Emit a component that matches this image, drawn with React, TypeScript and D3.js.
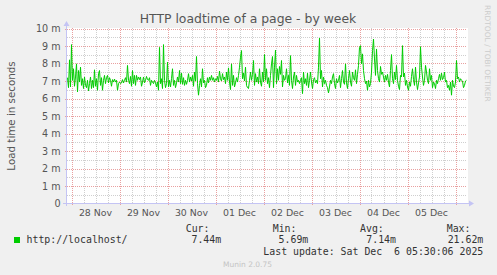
import React from "react";
import * as d3 from "d3";

const W = 497;
const H = 275;

// Load time values (milli-seconds units as shown: "m"), 30-min steps, oldest first
const loadTimes: number[] = [
  7.19, 6.62, 8.21, 6.66, 9.08, 7.04, 7.70, 6.70, 7.23, 7.98,
  6.38, 7.60, 6.94, 7.79, 6.75, 7.13, 6.57, 7.23, 6.75, 6.62,
  7.04, 6.43, 6.85, 7.23, 6.57, 7.04, 6.62, 7.64, 6.70, 7.13,
  6.47, 7.42, 7.60, 6.75, 7.19, 6.47, 7.04, 7.32, 6.85, 7.19,
  7.32, 6.89, 7.19, 7.04, 6.70, 7.08, 6.94, 7.11, 6.94, 7.04,
  6.47, 6.85, 6.94, 6.85, 6.89, 7.08, 6.89, 7.04, 7.19, 6.94,
  7.89, 7.04, 6.85, 7.26, 6.70, 7.60, 6.85, 7.32, 6.75, 7.32,
  7.04, 7.23, 7.08, 7.23, 6.70, 6.94, 7.23, 6.89, 7.04, 7.26,
  7.08, 7.04, 7.19, 6.75, 7.04, 6.94, 6.85, 7.04, 6.89, 6.66,
  6.94, 6.47, 8.92, 6.85, 7.13, 6.57, 9.08, 7.04, 6.62, 6.85,
  8.08, 6.66, 7.04, 6.66, 7.13, 7.70, 6.75, 7.04, 6.62, 6.89,
  7.23, 6.94, 7.60, 6.85, 7.45, 6.81, 7.19, 6.75, 7.04, 6.81,
  7.04, 7.42, 6.94, 7.23, 7.00, 7.32, 6.70, 7.51, 7.00, 8.40,
  6.85, 6.19, 6.75, 7.13, 6.66, 7.70, 6.89, 7.04, 6.62, 6.75,
  7.19, 6.89, 7.23, 7.04, 7.32, 7.04, 7.19, 6.94, 7.13, 7.04,
  7.26, 6.94, 7.57, 7.13, 7.00, 7.42, 7.08, 7.23, 6.85, 7.51,
  7.04, 7.75, 6.94, 6.51, 7.98, 6.75, 7.32, 6.66, 6.89, 7.19,
  6.94, 7.32, 7.79, 8.36, 8.74, 7.13, 7.45, 7.00, 7.79, 6.75,
  6.62, 6.57, 7.04,
  7.51, 7.04, 7.38, 8.17, 6.75, 7.42, 6.94, 7.23, 6.85, 7.70,
  6.94, 6.70, 7.51, 6.94, 8.51, 7.04, 7.70, 6.85, 7.19, 6.62,
  7.32, 7.98, 8.40, 6.62, 7.79, 8.77, 6.85, 7.70, 7.04, 7.83,
  7.38, 8.17, 6.66, 7.32, 7.04, 7.13, 7.70, 6.89, 7.32, 6.75,
  8.45, 7.04, 6.57, 7.23, 7.51, 6.75, 7.32, 6.94, 7.04, 6.85,
  7.04, 7.19, 6.28, 7.51, 6.85, 7.13, 6.75, 7.45, 6.62, 7.04,
  7.51, 6.94, 6.57, 7.08, 7.19, 6.89, 7.04, 6.85, 7.79, 9.45,
  7.13, 7.60, 6.66, 7.23, 6.85, 7.04, 6.75, 6.62, 6.32, 6.66,
  7.04, 6.85, 7.23, 7.42, 6.85, 6.57, 7.13, 6.89, 7.04, 7.32,
  6.62, 7.13, 7.60, 6.94, 6.81, 7.98, 6.89, 6.57, 7.13, 7.60,
  6.94, 6.70, 7.51, 7.19, 7.04, 7.64, 6.85, 7.38, 7.89, 8.92,
  9.02, 7.98, 8.55, 7.60, 7.13, 6.85, 7.00, 6.47, 7.04, 6.66,
  6.85, 7.51, 8.74, 9.40, 8.26, 7.32, 8.83, 7.60, 7.13, 6.94,
  7.83, 7.38, 7.51, 7.23, 6.94, 7.32, 7.04, 7.38, 6.94, 6.66,
  7.60, 8.51, 7.13, 6.85, 7.51, 7.08, 7.89, 7.04, 6.70, 6.51,
  7.32, 7.23, 9.02, 7.23, 7.45, 6.75, 7.04, 6.66, 6.47, 6.94,
  6.70, 7.26, 7.70, 7.08, 6.75, 7.79, 6.94, 6.51, 6.89, 7.23,
  8.96, 7.79, 7.23, 6.75, 7.04, 7.89, 7.51, 7.04, 6.85, 7.70,
  7.04, 7.32, 6.62, 6.94, 6.85, 6.57, 7.04, 6.85, 7.13, 7.38,
  7.04, 7.45, 7.08, 7.19, 7.51, 6.94, 7.04, 6.62, 6.75, 6.47,
  6.94, 6.19, 7.04, 6.70, 6.62, 6.94, 8.17, 7.13, 7.23, 6.94,
  7.13, 7.04, 7.00, 6.62, 6.75, 7.00, 7.04,
];

const yTicks: number[] = [0, 1, 2, 3, 4, 5, 6, 7, 8, 9, 10];
const yTickLabels: string[] = ["0", "1 m", "2 m", "3 m", "4 m", "5 m", "6 m", "7 m", "8 m", "9 m", "10 m"];
const dayLabels: string[] = ["28 Nov", "29 Nov", "30 Nov", "01 Dec", "02 Dec", "03 Dec", "04 Dec", "05 Dec"];
const dayDates: string[] = ["2025-11-28", "2025-11-29", "2025-11-30", "2025-12-01", "2025-12-02", "2025-12-03", "2025-12-04", "2025-12-05"];

const legendName = "http://localhost/";
const statHeaders: string[] = ["Cur:", "Min:", "Avg:", "Max:"];
const statValues: string[] = ["7.44m", "5.69m", "7.14m", "21.62m"];
const lastUpdate = "Last update: Sat Dec  6 05:30:06 2025";
const title = "HTTP loadtime of a page - by week";
const yTitle = "Load time in seconds";
const sideText = "RRDTOOL / TOBI OETIKER";
const footer = "Munin 2.0.75";

const END = new Date("2025-12-06T05:30:00Z").getTime();
const STEP = 30 * 60 * 1000;

export default function App() {
  const left = 66.5, right = 466.5, top = 28.5, bottom = 203.5;
  const x = d3.scaleUtc().domain([END - loadTimes.length * STEP, END]).range([left, right]);
  const y = d3.scaleLinear().domain([0, 10]).range([bottom, top]);

  const pts = loadTimes.map((v, i) => [x(END - (loadTimes.length - 1 - i) * STEP), y(v)] as [number, number]);
  const line = d3.line<[number, number]>().x(d => d[0]).y(d => d[1]);

  const [d0, d1] = x.domain() as Date[];
  const sixHours = d3.utcHour.every(6)!.range(d0, d1);
  const minorY = d3.range(0.5, 10.01, 0.5);

  const mono = "'DejaVu Sans Mono', monospace";
  const sans = "'DejaVu Sans', sans-serif";
  const axisCol = "#c4c4f4";
  const majorCol = "#e9a0a0";
  const minorCol = "#cfcfcf";
  const gx0 = 67, gx1 = 467, gy0 = 28, gy1 = 203;

  const statX = [185.7, 272.7, 360, 446.7];
  const valEnd = [221.2, 308.3, 396, 483.3];

  return (
    <svg width={W} height={H} style={{ position: "absolute", left: 0, top: 0 }} xmlns="http://www.w3.org/2000/svg">
      <rect x={0} y={0} width={W} height={H} fill="#f0f0f0" />
      <rect x={gx0 - 1} y={gy0} width={gx1 - gx0 + 2} height={gy1 - gy0 + 1} fill="#ffffff" />

      <g shapeRendering="crispEdges">
        {/* minor horizontal grid */}
        {minorY.filter(v => Math.abs(v - Math.round(v)) > 0.01).map(v => (
          <line key={"hy" + v} x1={gx0} x2={gx1} y1={Math.round(y(v)) + 0.5} y2={Math.round(y(v)) + 0.5}
            stroke={minorCol} strokeDasharray="1,1" />
        ))}
        {/* minor vertical grid */}
        {sixHours.filter(t => t.getUTCHours() !== 0).map(t => (
          <line key={"vx" + t.getTime()} x1={Math.round(x(t)) + 0.5} x2={Math.round(x(t)) + 0.5} y1={gy0} y2={gy1}
            stroke={minorCol} strokeDasharray="1,1" />
        ))}
        {/* major horizontal grid */}
        {yTicks.filter(v => v > 0).map(v => (
          <line key={"Hy" + v} x1={gx0 - 2} x2={gx1} y1={Math.round(y(v)) + 0.5} y2={Math.round(y(v)) + 0.5}
            stroke={majorCol} strokeDasharray="1,1" />
        ))}
        {/* major vertical grid */}
        {sixHours.filter(t => t.getUTCHours() === 0).map(t => (
          <line key={"Vx" + t.getTime()} x1={Math.round(x(t)) + 0.5} x2={Math.round(x(t)) + 0.5} y1={gy0} y2={gy1 + 3}
            stroke={majorCol} strokeDasharray="1,1" />
        ))}
        {/* axes */}
        <line x1={gx0 - 4} x2={gx1 + 2} y1={bottom} y2={bottom} stroke={axisCol} />
        <line x1={left} x2={left} y1={gy1 + 3} y2={gy0 - 2} stroke={axisCol} />
      </g>
      <path d={`M${gx1 + 2},${bottom - 3} L${gx1 + 7},${bottom} L${gx1 + 2},${bottom + 3} Z`} fill={axisCol} />
      <path d={`M${left - 3},${gy0 - 2} L${left},${gy0 - 7} L${left + 3},${gy0 - 2} Z`} fill={axisCol} />

      {/* data line */}
      <path d={line(pts) || ""} fill="none" stroke="#00cc00" strokeWidth={1} />

      {/* y tick labels */}
      {yTicks.map((v, i) => (
        <text key={"yl" + v} x={60.5} y={y(v) + 3.5} textAnchor="end" fontFamily={sans} fontSize={9.6} fill="#555555">
          {yTickLabels[i]}
        </text>
      ))}
      {/* x tick labels centered at noon */}
      {dayDates.map((d, i) => (
        <text key={"xl" + d} x={x(new Date(d + "T12:00:00Z"))} y={216} textAnchor="middle" fontFamily={sans} fontSize={9.4} fill="#555555">
          {dayLabels[i]}
        </text>
      ))}

      {/* titles */}
      <text x={248} y={23} textAnchor="middle" fontFamily={sans} fontSize={12.4} fill="#555555">{title}</text>
      <text transform={`translate(15,${(top + bottom) / 2}) rotate(-90)`} textAnchor="middle" fontFamily={sans} fontSize={10.3} fill="#555555">{yTitle}</text>
      <text transform={`translate(484.5,5) rotate(90)`} textAnchor="start" fontFamily={sans} fontSize={7.5} fill="#cccccc">{sideText}</text>

      {/* legend */}
      <rect x={14} y={237} width={6} height={6} fill="#00cc00" />
      <text x={26.5} y={242.7} fontFamily={mono} fontSize={9.9} fill="#333333">{legendName}</text>
      {statHeaders.map((h, i) => (
        <text key={"sh" + h} x={statX[i]} y={231.5} fontFamily={mono} fontSize={9.9} fill="#333333">{h}</text>
      ))}
      {statValues.map((v, i) => (
        <text key={"sv" + i} x={valEnd[i]} y={242.7} textAnchor="end" fontFamily={mono} fontSize={9.9} fill="#333333">{v}</text>
      ))}
      <text x={483.3} y={254.5} textAnchor="end" fontFamily={mono} fontSize={9.9} fill="#333333" style={{ whiteSpace: "pre" }}>{lastUpdate}</text>
      <text x={247.5} y={266.5} textAnchor="middle" fontFamily={sans} fontSize={7.5} fill="#c4c4c4">{footer}</text>
    </svg>
  );
}
